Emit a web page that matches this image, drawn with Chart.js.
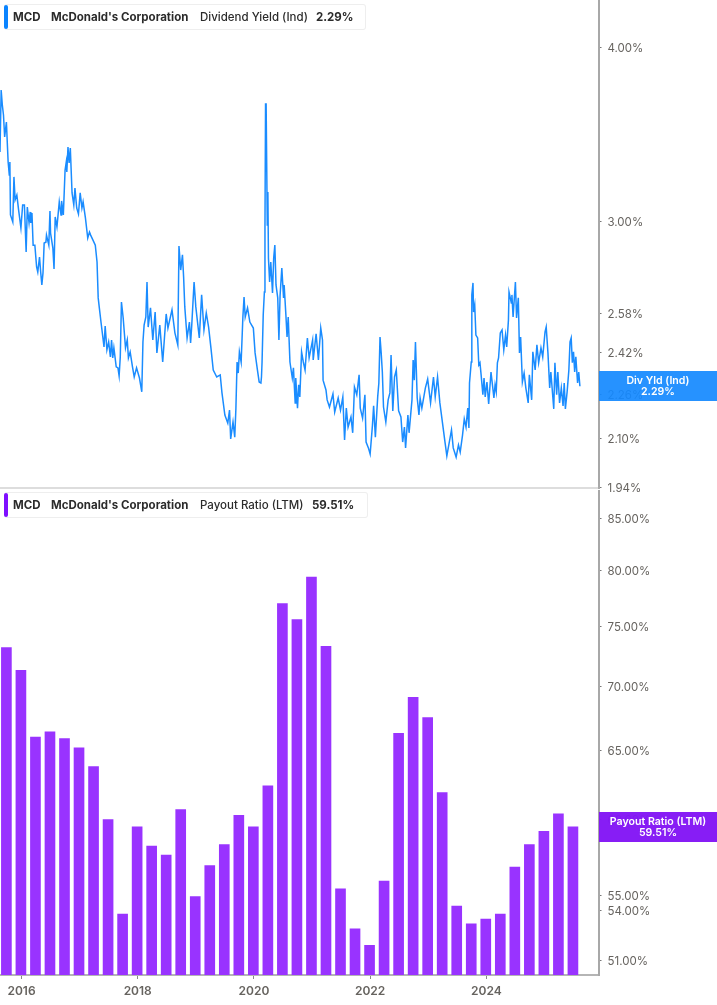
<!DOCTYPE html>
<html>
<head>
<meta charset="utf-8">
<script src="https://cdn.jsdelivr.net/npm/chart.js@4"></script>
<style>
    html, body { margin: 0; padding: 0; background: #fff; }
    body { position: relative; width: 717px; height: 1005px; overflow: hidden; font-family: Inter, sans-serif; }
    canvas { position: absolute; left: 0; display: block; }
    #graficoYield { top: 0; }
    #graficoPayout { top: 490px; }
    .chip {
        position: absolute; left: 4px; height: 26px; box-sizing: border-box;
        border: 1px solid #eeeeee; border-left: 0; border-radius: 3px; background: #fff;
        font-size: 11.5px; line-height: 24px; color: #2b2b2b; white-space: nowrap;
    }
    .chip i { position: absolute; left: 0; top: 0; bottom: 0; width: 4px; border-radius: 2px; }
    .chip span { position: absolute; top: 0; }
    .chip b { font-weight: 700; }
    .flag {
        position: absolute; left: 599px; width: 118px; height: 30px; color: #fff; text-align: center;
        font-size: 10.6px; font-weight: 600; line-height: 11.5px; padding-top: 3.5px; box-sizing: border-box;
    }
</style>
</head>
<body>
<canvas id="graficoYield" width="717" height="496"></canvas>
<canvas id="graficoPayout" width="717" height="515"></canvas>

<div class="chip" style="top:4px;width:362px">
    <i style="background:#0a84ff"></i>
    <span style="left:9px"><b>MCD</b></span>
    <span style="left:47px"><b>McDonald's Corporation</b></span>
    <span style="left:196px;font-weight:500">Dividend Yield (Ind)</span>
    <span style="left:312px"><b>2.29%</b></span>
</div>
<div class="chip" style="top:492px;width:364px">
    <i style="background:#7f0fff"></i>
    <span style="left:9px"><b>MCD</b></span>
    <span style="left:47px"><b>McDonald's Corporation</b></span>
    <span style="left:196px;font-weight:500">Payout Ratio (LTM)</span>
    <span style="left:308px"><b>59.51%</b></span>
</div>
<div class="flag" style="top:371px;background:rgba(20,137,255,0.92)">Div Yld (Ind)<br>2.29%</div>
<div class="flag" style="top:812px;background:rgba(131,22,245,0.97)">Payout Ratio (LTM)<br>59.51%</div>

<script>
// --- Dividend yield (Ind), % ---
const yieldYears = [
    2015.63, 2015.65, 2015.67, 2015.69, 2015.71, 2015.74, 2015.77, 2015.79, 2015.80, 2015.81,
    2015.85, 2015.87, 2015.89, 2015.92, 2015.95, 2015.99, 2016.02, 2016.05, 2016.08, 2016.10,
    2016.13, 2016.15, 2016.16, 2016.18, 2016.20, 2016.23, 2016.26, 2016.28, 2016.31, 2016.33,
    2016.35, 2016.37, 2016.39, 2016.42, 2016.43, 2016.47, 2016.49, 2016.50, 2016.54, 2016.56,
    2016.58, 2016.61, 2016.65, 2016.68, 2016.69, 2016.72, 2016.75, 2016.77, 2016.78, 2016.80,
    2016.82, 2016.84, 2016.87, 2016.90, 2016.92, 2016.95, 2016.98, 2017.01, 2017.04, 2017.06,
    2017.10, 2017.14, 2017.17, 2017.19, 2017.23, 2017.27, 2017.30, 2017.32, 2017.34, 2017.37,
    2017.42, 2017.44, 2017.47, 2017.50, 2017.53, 2017.55, 2017.57, 2017.59, 2017.63, 2017.66,
    2017.68, 2017.70, 2017.72, 2017.75, 2017.79, 2017.82, 2017.84, 2017.87, 2017.91, 2017.94,
    2017.98, 2018.03, 2018.07, 2018.09, 2018.11, 2018.14, 2018.16, 2018.18, 2018.22, 2018.26,
    2018.30, 2018.33, 2018.38, 2018.43, 2018.49, 2018.52, 2018.59, 2018.64, 2018.69, 2018.71,
    2018.74, 2018.77, 2018.79, 2018.81, 2018.85, 2018.89, 2018.91, 2018.93, 2018.97, 2019.00,
    2019.06, 2019.10, 2019.14, 2019.18, 2019.22, 2019.26, 2019.30, 2019.36, 2019.42, 2019.45,
    2019.50, 2019.55, 2019.58, 2019.60, 2019.64, 2019.67, 2019.69, 2019.71, 2019.73, 2019.75,
    2019.78, 2019.81, 2019.83, 2019.85, 2019.89, 2019.93, 2019.99, 2020.02, 2020.06, 2020.09,
    2020.12, 2020.13, 2020.14, 2020.16, 2020.18, 2020.19, 2020.20, 2020.21, 2020.23, 2020.24,
    2020.25, 2020.27, 2020.29, 2020.32, 2020.34, 2020.36, 2020.38, 2020.41, 2020.43, 2020.45,
    2020.48, 2020.51, 2020.52, 2020.55, 2020.57, 2020.59, 2020.62, 2020.66, 2020.68, 2020.71,
    2020.72, 2020.75, 2020.77, 2020.79, 2020.82, 2020.85, 2020.88, 2020.92, 2020.95, 2021.01,
    2021.02, 2021.07, 2021.11, 2021.15, 2021.18, 2021.19, 2021.24, 2021.26, 2021.30, 2021.36,
    2021.39, 2021.45, 2021.49, 2021.53, 2021.56, 2021.59, 2021.62, 2021.67, 2021.70, 2021.73,
    2021.77, 2021.81, 2021.83, 2021.87, 2021.91, 2021.93, 2021.97, 2022.00, 2022.04, 2022.06,
    2022.09, 2022.13, 2022.15, 2022.17, 2022.19, 2022.21, 2022.23, 2022.27, 2022.31, 2022.34,
    2022.36, 2022.39, 2022.42, 2022.45, 2022.49, 2022.53, 2022.56, 2022.59, 2022.61, 2022.65,
    2022.67, 2022.72, 2022.74, 2022.76, 2022.78, 2022.81, 2022.84, 2022.86, 2022.89, 2022.92,
    2022.95, 2022.99, 2023.04, 2023.09, 2023.12, 2023.16, 2023.20, 2023.25, 2023.29, 2023.32,
    2023.36, 2023.40, 2023.43, 2023.48, 2023.52, 2023.55, 2023.59, 2023.62, 2023.65, 2023.68,
    2023.70, 2023.71, 2023.74, 2023.75, 2023.77, 2023.78, 2023.80, 2023.82, 2023.85, 2023.87,
    2023.89, 2023.91, 2023.94, 2023.96, 2023.98, 2024.01, 2024.04, 2024.06, 2024.08, 2024.13,
    2024.15, 2024.17, 2024.19, 2024.21, 2024.24, 2024.27, 2024.30, 2024.33, 2024.35, 2024.38,
    2024.39, 2024.43, 2024.44, 2024.46, 2024.50, 2024.52, 2024.55, 2024.57, 2024.59, 2024.62,
    2024.65, 2024.68, 2024.72, 2024.74, 2024.78, 2024.80, 2024.84, 2024.87, 2024.90, 2024.94,
    2024.97, 2025.01, 2025.03, 2025.06, 2025.09, 2025.11, 2025.16, 2025.18, 2025.21, 2025.23,
    2025.26, 2025.29, 2025.32, 2025.34, 2025.36, 2025.39, 2025.42, 2025.44, 2025.46, 2025.48,
    2025.50, 2025.52, 2025.54, 2025.57, 2025.59, 2025.61
];
const yieldValues = [
    3.366, 3.727, 3.636, 3.577, 3.450, 3.536, 3.311, 3.241, 3.311, 3.035,
    3.000, 3.231, 3.111, 3.136, 3.060, 2.971, 3.085, 3.085, 2.856, 3.075,
    2.995, 3.050, 2.995, 3.045, 2.888, 2.888, 2.786, 2.763, 2.832, 2.763,
    2.705, 2.759, 2.898, 2.902, 2.936, 2.888, 3.055, 2.946, 2.874, 2.777,
    3.025, 2.976, 3.101, 3.035, 3.106, 3.035, 3.268, 3.311, 3.257, 3.394,
    3.306, 3.388, 3.147, 3.085, 3.172, 3.070, 3.040, 3.147, 3.070, 3.101,
    3.020, 2.922, 2.951, 2.936, 2.912, 2.888, 2.809, 2.648, 2.604, 2.541,
    2.443, 2.528, 2.431, 2.463, 2.403, 2.471, 2.399, 2.439, 2.364, 2.360,
    2.329, 2.403, 2.630, 2.562, 2.439, 2.471, 2.399, 2.423, 2.364, 2.325,
    2.360, 2.321, 2.269, 2.463, 2.532, 2.566, 2.718, 2.524, 2.605, 2.471,
    2.587, 2.419, 2.532, 2.383, 2.579, 2.520, 2.596, 2.500, 2.451, 2.884,
    2.772, 2.842, 2.740, 2.609, 2.479, 2.545, 2.459, 2.532, 2.718, 2.609,
    2.479, 2.661, 2.512, 2.583, 2.524, 2.439, 2.352, 2.325, 2.333, 2.265,
    2.184, 2.155, 2.202, 2.100, 2.159, 2.106, 2.209, 2.383, 2.340, 2.423,
    2.383, 2.566, 2.652, 2.566, 2.605, 2.545, 2.520, 2.419, 2.352, 2.306,
    2.302, 2.325, 2.383, 2.575, 2.674, 2.971, 3.642, 3.642, 2.985, 3.152,
    2.827, 2.718, 2.809, 2.670, 2.827, 2.888, 2.705, 2.648, 2.471, 2.657,
    2.781, 2.648, 2.705, 2.575, 2.483, 2.566, 2.383, 2.321, 2.360, 2.228,
    2.321, 2.209, 2.295, 2.250, 2.423, 2.383, 2.352, 2.479, 2.399, 2.471,
    2.391, 2.496, 2.391, 2.520, 2.471, 2.313, 2.276, 2.239, 2.213, 2.261,
    2.195, 2.246, 2.202, 2.250, 2.096, 2.209, 2.141, 2.177, 2.121, 2.287,
    2.258, 2.333, 2.209, 2.173, 2.258, 2.089, 2.069, 2.048, 2.148, 2.217,
    2.106, 2.250, 2.302, 2.483, 2.419, 2.344, 2.213, 2.159, 2.239, 2.265,
    2.411, 2.199, 2.325, 2.352, 2.199, 2.177, 2.089, 2.141, 2.069, 2.184,
    2.121, 2.239, 2.391, 2.313, 2.463, 2.246, 2.184, 2.246, 2.209, 2.246,
    2.283, 2.317, 2.228, 2.325, 2.250, 2.325, 2.228, 2.148, 2.086, 2.042,
    2.086, 2.131, 2.069, 2.038, 2.079, 2.055, 2.113, 2.170, 2.141, 2.209,
    2.138, 2.302, 2.383, 2.661, 2.714, 2.587, 2.617, 2.491, 2.479, 2.372,
    2.380, 2.333, 2.258, 2.321, 2.250, 2.306, 2.224, 2.283, 2.344, 2.246,
    2.295, 2.269, 2.380, 2.399, 2.500, 2.512, 2.431, 2.491, 2.443, 2.553,
    2.674, 2.626, 2.661, 2.566, 2.718, 2.562, 2.648, 2.419, 2.483, 2.306,
    2.340, 2.283, 2.228, 2.333, 2.239, 2.423, 2.352, 2.451, 2.380, 2.439,
    2.403, 2.504, 2.524, 2.419, 2.283, 2.344, 2.206, 2.380, 2.258, 2.344,
    2.228, 2.283, 2.217, 2.302, 2.206, 2.269, 2.352, 2.463, 2.479, 2.380,
    2.423, 2.344, 2.403, 2.302, 2.344, 2.290
];
const yieldTicks = [4.00, 3.00, 2.58, 2.42, 2.26, 2.10, 1.94];

// --- Payout ratio (LTM), % ---
const payoutQuarters = [
    2015.74, 2015.99, 2016.24, 2016.49, 2016.74, 2016.99, 2017.24, 2017.49, 2017.74, 2017.99,
    2018.24, 2018.49, 2018.74, 2018.99, 2019.24, 2019.49, 2019.74, 2019.99, 2020.24, 2020.49,
    2020.74, 2020.99, 2021.24, 2021.49, 2021.74, 2021.99, 2022.24, 2022.49, 2022.74, 2022.99,
    2023.24, 2023.49, 2023.74, 2023.99, 2024.24, 2024.49, 2024.74, 2024.99, 2025.24, 2025.49
];
const payoutValues = [
    73.2, 71.3, 66.0, 66.4, 65.9, 65.2, 63.8, 60.0, 53.8, 59.5,
    58.2, 57.6, 60.7, 54.9, 56.9, 58.3, 60.3, 59.5, 62.4, 77.0,
    75.6, 79.4, 73.3, 55.4, 52.9, 51.9, 55.9, 66.3, 69.1, 67.5,
    61.9, 54.3, 53.2, 53.5, 53.8, 56.8, 58.3, 59.2, 60.4, 59.51
];
const payoutTicks = [85, 80, 75, 70, 65, 60, 55, 54, 51];

const yearTicks = [2016, 2018, 2020, 2022, 2024];

document.addEventListener("DOMContentLoaded", () => {

    const xMin = 2015.63;
    const xMax = 2025.93;
    const larguraEixo = 118.5;
    const corTexto = "#66635f";

    // sem folga extra para os rotulos: a area do grafico vai ate a borda
    const semFolga = (scale) => {
        scale.paddingTop = 0;
        scale.paddingBottom = 0;
        scale.paddingLeft = 0;
        scale.paddingRight = 0;
    };

    const eixoY = (ticks, min, max) => ({
        type: "logarithmic",
        position: "right",
        min: min,
        max: max,
        afterFit(scale) {
            scale.width = larguraEixo;
            semFolga(scale);
        },
        afterBuildTicks(scale) { scale.ticks = ticks.map(v => ({ value: v })); },
        border: { color: "#a8a8a8", width: 2 },
        grid: { drawOnChartArea: false, tickLength: 3, tickColor: "#777" },
        ticks: {
            autoSkip: false,
            padding: 6,
            labelOffset: 1,
            color: corTexto,
            font: { family: "Inter", size: 11.5 },
            callback: v => v.toFixed(2) + "%"
        }
    });

    new Chart(document.getElementById("graficoYield"), {
        type: "line",
        data: {
            datasets: [{
                data: yieldYears.map((ano, i) => ({ x: ano, y: yieldValues[i] })),
                borderColor: "#1a8cff",
                borderWidth: 1.5,
                pointRadius: 0,
                tension: 0
            }]
        },
        options: {
            responsive: false,
            animation: false,
            layout: { padding: { bottom: 7 } },   // espaco para o rotulo 1.94%
            plugins: { legend: { display: false }, tooltip: { enabled: false } },
            scales: {
                x: {
                    type: "linear",
                    min: xMin,
                    max: xMax,
                    afterFit(scale) {
                        scale.height = 1;
                        semFolga(scale);
                    },
                    border: { color: "#dddddd", width: 2 },
                    grid: { display: false },
                    ticks: { display: false }
                },
                y: eixoY(yieldTicks, 1.937, 4.322)
            }
        }
    });

    new Chart(document.getElementById("graficoPayout"), {
        type: "bar",
        data: {
            datasets: [{
                data: payoutQuarters.map((ano, i) => ({ x: ano, y: payoutValues[i] })),
                backgroundColor: "#9933ff",
                barThickness: 10
            }]
        },
        options: {
            responsive: false,
            animation: false,
            layout: { padding: 0 },
            plugins: { legend: { display: false }, tooltip: { enabled: false } },
            scales: {
                x: {
                    type: "linear",
                    min: xMin,
                    max: xMax,
                    offset: false,
                    afterFit(scale) {
                        scale.height = 30;
                        semFolga(scale);
                    },
                    afterBuildTicks(scale) { scale.ticks = yearTicks.map(v => ({ value: v })); },
                    border: { color: "#b5b5b5", width: 2 },
                    grid: { drawOnChartArea: false, offset: false, tickLength: 4, tickColor: "#888" },
                    ticks: {
                        autoSkip: false,
                        maxRotation: 0,
                        padding: 5,
                        color: corTexto,
                        font: { family: "Inter", size: 12, weight: "600" },
                        callback: v => String(v)
                    }
                },
                y: eixoY(payoutTicks, 50.15, 87.8)
            }
        }
    });
});
</script>
</body>
</html>
